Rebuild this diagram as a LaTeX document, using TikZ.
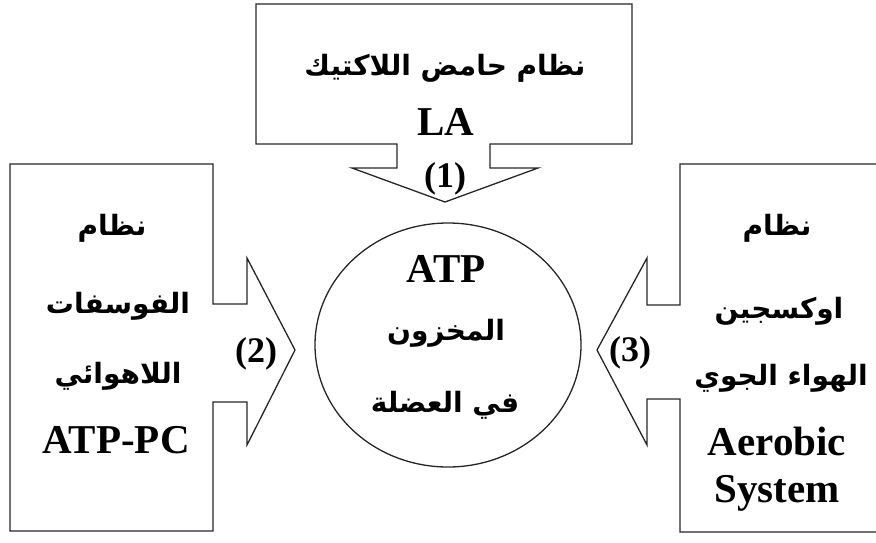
\documentclass[tikz,border=0pt]{standalone}
\usepackage{fontspec}
\usetikzlibrary{shapes.geometric}
\setmainfont{Liberation Serif}
\newfontfamily\arabicfont[Script=Arabic]{DejaVu Sans}
\TeXXeTstate=1
\begin{document}
\begin{tikzpicture}[x=1pt,y=-1pt,
  shapeline/.style={draw=black!85, line width=1.3pt, line join=miter},
  lat/.style={font=\fontsize{41}{41}\selectfont\bfseries, anchor=base, inner sep=0pt},
  num/.style={font=\fontsize{36}{36}\selectfont\bfseries, anchor=base, inner sep=0pt},
  ar/.style={font=\arabicfont\fontsize{28}{28}\selectfont\bfseries, anchor=base, inner sep=0pt}]
\useasboundingbox (0,0) rectangle (876,542);
\clip (0,0) rectangle (876,542);
% top box with arrow (1)
\draw[shapeline] (256,4) -- (632,4) -- (632,144) -- (490,144) -- (490,168) -- (538,168)
  -- (445,202) -- (352,168) -- (397,168) -- (397,144) -- (256,144) -- cycle;
% left box with arrow (2)
\draw[shapeline] (10,164) -- (213,164) -- (213,304) -- (247,304) -- (247,258) -- (295,350)
  -- (247,445) -- (247,402) -- (213,402) -- (213,531) -- (10,531) -- cycle;
% right box with arrow (3)
\draw[shapeline] (890,164) -- (680,164) -- (680,305) -- (647,305) -- (647,258) -- (597,350)
  -- (647,445) -- (647,399) -- (680,399) -- (680,532) -- (890,532);
% centre
\node[shapeline, ellipse, minimum width=266pt, minimum height=244pt, inner sep=0pt] (atp) at (448,345) {};
% texts top
\node[ar] (t1) at (445,75) {\beginR نظام حامض اللاكتيك\endR};
\node[lat] (t2) at (446,135) {LA};
\node[num] (n1) at (445,187) {(1)};
% left texts
\node[ar] (l1) at (112,235) {\beginR نظام\endR};
\node[ar] (l2) at (118,313) {\beginR الفوسفات\endR};
\node[ar] (l3) at (118,383) {\beginR اللاهوائي\endR};
\node[lat] (l4) at (116,453) {ATP-PC};
\node[num] (n2) at (256,362) {(2)};
% right texts
\node[ar] (r1) at (777,235) {\beginR نظام\endR};
\node[ar] (r2) at (779,318) {\beginR اوكسجين\endR};
\node[ar] (r3) at (781,385) {\beginR الهواء الجوي\endR};
\node[lat] (r4) at (777,455) {Aerobic};
\node[lat] (r5) at (777,502) {System};
\node[num] (n3) at (630,361) {(3)};
% circle texts
\node[lat] (c1) at (446,282) {ATP};
\node[ar] (c2) at (446,340) {\beginR المخزون\endR};
\node[ar] (c3) at (445,412) {\beginR في العضلة\endR};
\end{tikzpicture}
\end{document}
